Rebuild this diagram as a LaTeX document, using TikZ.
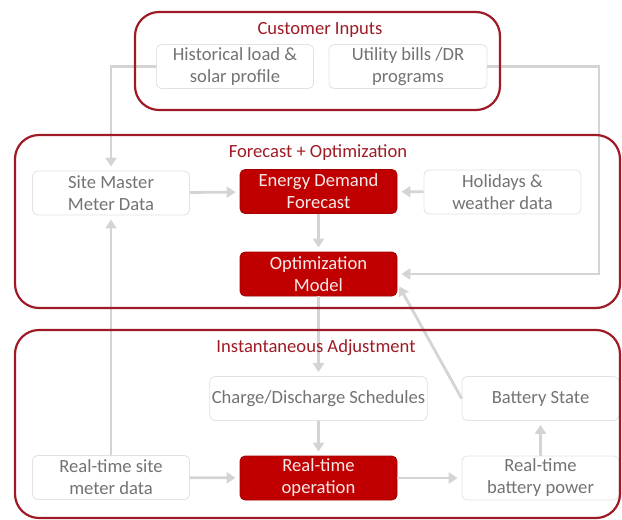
\documentclass[tikz,border=0pt]{standalone}
\usepackage{fontspec}
\setmainfont{Carlito}
\usetikzlibrary{arrows.meta,positioning}
\definecolor{hotred}{HTML}{C00000}
\definecolor{hotline}{HTML}{A50000}
\definecolor{hottext}{HTML}{FAE8E8}
\definecolor{grpline}{HTML}{9E1B26}
\definecolor{boxline}{HTML}{E2E2E2}
\definecolor{txtgray}{HTML}{737373}
\definecolor{arrgray}{HTML}{D4D4D4}

\begin{document}
\begin{tikzpicture}[
  x=0.5pt, y=-0.5pt,
  font=\fontsize{9.3}{11}\selectfont,
  box/.style={draw=boxline, rounded corners=2.5pt, align=center, minimum width=78.5pt, minimum height=22pt, inner sep=1pt, fill=white, text=txtgray},
  hot/.style={box, draw=hotline, fill=hotred, text=hottext},
  grp/.style={draw=grpline, line width=1.1pt, rounded corners=12pt, inner sep=0pt},
  ttl/.style={text=grpline},
  arr/.style={-{Triangle[length=4.5pt,width=5.5pt]}, line width=1.4pt, draw=arrgray, shorten >=2pt}
]
  \useasboundingbox (0,0) rectangle (622,520);
  % boxes
  \node[box] (hist) at (235,66.5) {Historical load \&\\solar profile};
  \node[box, minimum width=79pt] (util) at (408,66.5) {Utility bills /DR\\programs};
  \node[box] (site) at (111,193) {Site Master\\Meter Data};
  \node[hot] (edf) at (318.5,191.5) {Energy Demand\\Forecast};
  \node[box] (hol) at (502.5,192) {Holidays \&\\weather data};
  \node[hot] (opt) at (318.5,274) {Optimization\\Model};
  \node[box, minimum width=108.5pt] (chg) at (318.5,398.5) {Charge/Discharge Schedules};
  \node[box] (bst) at (540.5,398.5) {Battery State};
  \node[box] (rsm) at (111,477.5) {Real-time site\\meter data};
  \node[hot] (rto) at (318.5,478) {Real-time\\operation};
  \node[box] (rbp) at (540.5,478) {Real-time\\battery power};
  \coordinate (ur) at (599,66.5);
  % connectors
  \draw[arr] (hist.west) -| (site.north);
  \draw[arr] (util.east) -- (ur) |- (opt.east);
  \draw[arr] (site) -- (edf);
  \draw[arr] (hol) -- (edf);
  \draw[arr] (edf) -- (opt);
  \draw[arr] (opt) -- (chg);
  \draw[arr] (chg) -- (rto);
  \draw[arr] (rsm) -- (rto);
  \draw[arr] (rto) -- (rbp);
  \draw[arr] (rbp) -- (bst);
  \draw[arr] (rsm) -- (site);
  \draw[arr] (bst.west) -- ([yshift=-4.5pt]opt.east);
  % groups
  \node[grp, minimum width=182.5pt, minimum height=49pt] (cust) at (317.5,61) {};
  \node[grp, minimum width=302.5pt, minimum height=86.5pt] (fo) at (317.5,221.5) {};
  \node[grp, minimum width=302.5pt, minimum height=94pt] (ia) at (317.5,424) {};
  \node[ttl] (custt) at (320,30) {Customer Inputs};
  \node[ttl] (fot) at (318,153) {Forecast + Optimization};
  \node[ttl] (iat) at (316,348) {Instantaneous Adjustment};
\end{tikzpicture}
\end{document}
